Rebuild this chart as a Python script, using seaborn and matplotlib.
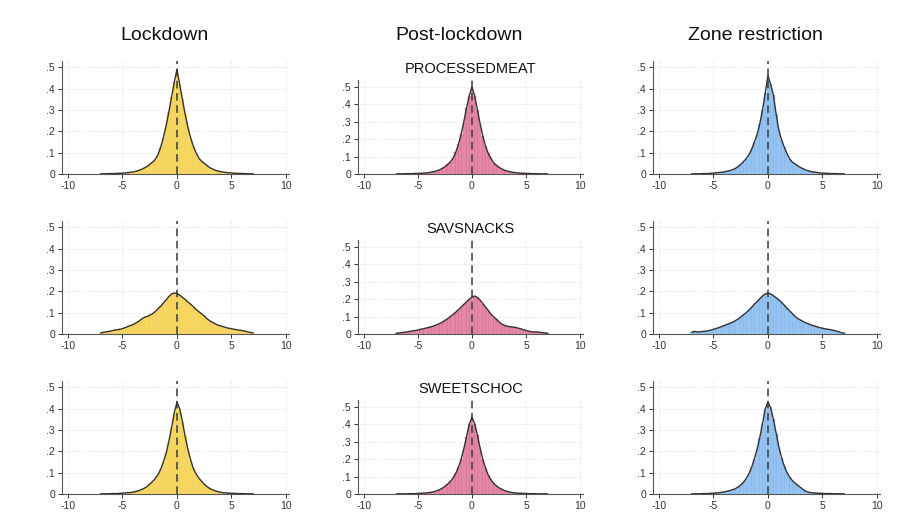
import numpy as np
import pandas as pd
import seaborn as sns
import matplotlib.pyplot as plt

# -------------------
# Data (densities, bins of width .25 from -7 to 7)
# -------------------
periods = ["Lockdown", "Post-lockdown", "Zone restriction"]
products = ["PROCESSEDMEAT", "SAVSNACKS", "SWEETSCHOC"]
period_colors = ["#f5d251", "#e0789d", "#88bbef"]
edge_colors = ["#fae39a", "#eeaec4", "#bcd8f6"]
x_ticks = [-10, -5, 0, 5, 10]
y_ticks = [0, 0.1, 0.2, 0.3, 0.4, 0.5]
y_ticklabels = ["0", ".1", ".2", ".3", ".4", ".5"]

bin_centers = np.arange(-7, 7.001, 0.25)
bin_edges = list(np.append(bin_centers - 0.125, bin_centers[-1] + 0.125))

lock_meat = [0.001, 0.001, 0.001, 0.002, 0.002, 0.002, 0.003, 0.003, 0.004, 0.005, 0.006, 0.008, 0.010, 0.013,
             0.017, 0.022, 0.028, 0.035, 0.045, 0.055, 0.068, 0.090, 0.125, 0.170, 0.225, 0.290, 0.360, 0.430,
             0.490,
             0.420, 0.350, 0.280, 0.220, 0.170, 0.130, 0.100, 0.075, 0.060, 0.050, 0.040, 0.030, 0.024, 0.018,
             0.014, 0.011, 0.009, 0.007, 0.006, 0.005, 0.004, 0.003, 0.003, 0.002, 0.002, 0.001, 0.001, 0.001]
post_meat = [0.001, 0.001, 0.001, 0.001, 0.002, 0.002, 0.002, 0.003, 0.003, 0.004, 0.005, 0.006, 0.008, 0.011,
             0.014, 0.018, 0.024, 0.032, 0.042, 0.055, 0.070, 0.090, 0.125, 0.170, 0.230, 0.300, 0.380, 0.450,
             0.500,
             0.450, 0.370, 0.290, 0.220, 0.160, 0.120, 0.090, 0.065, 0.050, 0.038, 0.030, 0.022, 0.017, 0.013,
             0.010, 0.008, 0.006, 0.005, 0.004, 0.003, 0.003, 0.002, 0.002, 0.002, 0.001, 0.001, 0.001, 0.001]
zone_meat = [0.001, 0.001, 0.001, 0.001, 0.002, 0.002, 0.002, 0.003, 0.004, 0.006, 0.007, 0.008, 0.010, 0.013,
             0.016, 0.020, 0.026, 0.034, 0.045, 0.058, 0.072, 0.090, 0.115, 0.150, 0.185, 0.235, 0.300, 0.380,
             0.460,
             0.420, 0.370, 0.280, 0.205, 0.160, 0.125, 0.095, 0.070, 0.055, 0.047, 0.038, 0.030, 0.024, 0.018,
             0.014, 0.011, 0.009, 0.007, 0.005, 0.004, 0.003, 0.003, 0.002, 0.002, 0.002, 0.001, 0.001, 0.001]

lock_snack = [0.005, 0.008, 0.010, 0.012, 0.015, 0.018, 0.020, 0.022, 0.025, 0.030, 0.035, 0.040, 0.045, 0.052,
              0.060, 0.070, 0.078, 0.082, 0.088, 0.095, 0.105, 0.118, 0.130, 0.145, 0.160, 0.175, 0.188, 0.192,
              0.190,
              0.182, 0.172, 0.162, 0.150, 0.140, 0.128, 0.115, 0.105, 0.095, 0.085, 0.072, 0.062, 0.055, 0.048,
              0.042, 0.038, 0.034, 0.030, 0.027, 0.025, 0.022, 0.020, 0.018, 0.016, 0.013, 0.010, 0.007, 0.005]
post_snack = [0.004, 0.006, 0.008, 0.010, 0.012, 0.015, 0.018, 0.020, 0.023, 0.027, 0.030, 0.034, 0.038, 0.042,
              0.047, 0.053, 0.060, 0.068, 0.078, 0.088, 0.100, 0.112, 0.125, 0.140, 0.155, 0.170, 0.185, 0.200,
              0.212,
              0.218, 0.210, 0.195, 0.175, 0.155, 0.135, 0.115, 0.100, 0.085, 0.070, 0.058, 0.050, 0.045, 0.042,
              0.040, 0.038, 0.034, 0.030, 0.025, 0.020, 0.016, 0.013, 0.012, 0.012, 0.010, 0.008, 0.006, 0.004]
zone_snack = [0.008, 0.012, 0.010, 0.010, 0.012, 0.013, 0.015, 0.018, 0.022, 0.026, 0.030, 0.035, 0.040, 0.045,
              0.050, 0.055, 0.062, 0.070, 0.080, 0.090, 0.100, 0.112, 0.125, 0.140, 0.152, 0.165, 0.178, 0.188,
              0.192,
              0.188, 0.180, 0.170, 0.160, 0.148, 0.135, 0.120, 0.108, 0.095, 0.082, 0.072, 0.065, 0.058, 0.052,
              0.046, 0.042, 0.038, 0.034, 0.030, 0.027, 0.024, 0.022, 0.020, 0.017, 0.014, 0.010, 0.006, 0.004]

lock_sweet = [0.001, 0.001, 0.001, 0.001, 0.002, 0.002, 0.002, 0.003, 0.004, 0.005, 0.006, 0.007, 0.009, 0.012,
              0.016, 0.021, 0.027, 0.035, 0.046, 0.058, 0.072, 0.090, 0.115, 0.150, 0.190, 0.245, 0.310, 0.380,
              0.430,
              0.400, 0.340, 0.270, 0.210, 0.160, 0.120, 0.095, 0.075, 0.060, 0.046, 0.035, 0.026, 0.020, 0.015,
              0.011, 0.008, 0.006, 0.005, 0.004, 0.003, 0.003, 0.002, 0.002, 0.002, 0.001, 0.001, 0.001, 0.001]
post_sweet = [0.001, 0.001, 0.001, 0.001, 0.001, 0.002, 0.002, 0.002, 0.003, 0.004, 0.005, 0.006, 0.008, 0.010,
              0.014, 0.019, 0.025, 0.033, 0.044, 0.057, 0.072, 0.092, 0.118, 0.155, 0.200, 0.260, 0.330, 0.400,
              0.440,
              0.405, 0.340, 0.265, 0.200, 0.150, 0.110, 0.082, 0.062, 0.048, 0.036, 0.027, 0.020, 0.015, 0.011,
              0.008, 0.006, 0.005, 0.004, 0.003, 0.003, 0.002, 0.002, 0.002, 0.001, 0.001, 0.001, 0.001, 0.001]
zone_sweet = [0.001, 0.001, 0.001, 0.001, 0.002, 0.002, 0.002, 0.003, 0.004, 0.005, 0.006, 0.008, 0.010, 0.013,
              0.016, 0.020, 0.025, 0.032, 0.042, 0.055, 0.072, 0.095, 0.125, 0.165, 0.210, 0.265, 0.330, 0.400,
              0.430,
              0.405, 0.350, 0.285, 0.220, 0.170, 0.130, 0.100, 0.078, 0.062, 0.050, 0.040, 0.030, 0.020, 0.012,
              0.008, 0.006, 0.005, 0.004, 0.003, 0.003, 0.002, 0.002, 0.002, 0.001, 0.001, 0.001, 0.001, 0.001]

panels = [[lock_meat, post_meat, zone_meat],
          [lock_snack, post_snack, zone_snack],
          [lock_sweet, post_sweet, zone_sweet]]

# -------------------
# Layout (pixel positions of the panels)
# -------------------
W, H = 907, 524
col_left = [62, 358, 653]
col_right = [289, 583, 880]
row_bottom = [174, 334, 494]
row_top = [61, 221, 381]
row_top_mid = [80, 240, 400]

sns.set_style("white")
plt.rcParams["font.family"] = ["Liberation Sans", "DejaVu Sans"]

fig = plt.figure(figsize=(W / 100, H / 100), dpi=100)

for j, period in enumerate(periods):
    fig.text(((col_left[j] + col_right[j]) / 2 - 11) / W, 1 - 35 / H, period,
             ha="center", va="center", fontsize=14, color="#111111")

for i, product in enumerate(products):
    for j, period in enumerate(periods):
        top = row_top_mid[i] if j == 1 else row_top[i]
        ax = fig.add_axes([col_left[j] / W, 1 - row_bottom[i] / H,
                           (col_right[j] - col_left[j]) / W, (row_bottom[i] - top) / H])
        df = pd.DataFrame({"x": bin_centers, "density": panels[i][j]})

        ax.grid(True, color="#e9e9e9", linewidth=0.6, linestyle=(0, (4, 2)))
        ax.set_axisbelow(True)
        sns.histplot(data=df, x="x", weights="density", bins=bin_edges, color=period_colors[j],
                     alpha=1, edgecolor=edge_colors[j], linewidth=0.3, ax=ax)
        ax.axvline(0, color="#3a3a3a", linewidth=1.1, linestyle=(0, (5, 3)), zorder=3)
        sns.lineplot(data=df, x="x", y="density", color="#333333", linewidth=1.0, ax=ax, zorder=4)

        ax.set_xlim(-10.55, 10.28)
        ax.set_ylim(0, 0.54 if j == 1 else 0.53)
        ax.set_xticks(x_ticks)
        ax.set_xticklabels([str(t) for t in x_ticks])
        ax.set_yticks(y_ticks)
        ax.set_yticklabels(y_ticklabels)
        ax.set_xlabel("")
        ax.set_ylabel("")
        ax.tick_params(axis="both", direction="out", length=3, width=0.7, pad=2,
                       labelsize=7.5, colors="#333333", bottom=True, left=True)
        for side in ["top", "right"]:
            ax.spines[side].set_visible(False)
        for side in ["left", "bottom"]:
            ax.spines[side].set_color("#555555")
            ax.spines[side].set_linewidth(0.8)

        if j == 1:
            fig.text((col_left[j] + col_right[j]) / 2 / W, 1 - (row_top_mid[i] - 11) / H, product,
                     ha="center", va="center", fontsize=10.5, color="#111111")

fig.savefig("out.png", dpi=100)
plt.close()
